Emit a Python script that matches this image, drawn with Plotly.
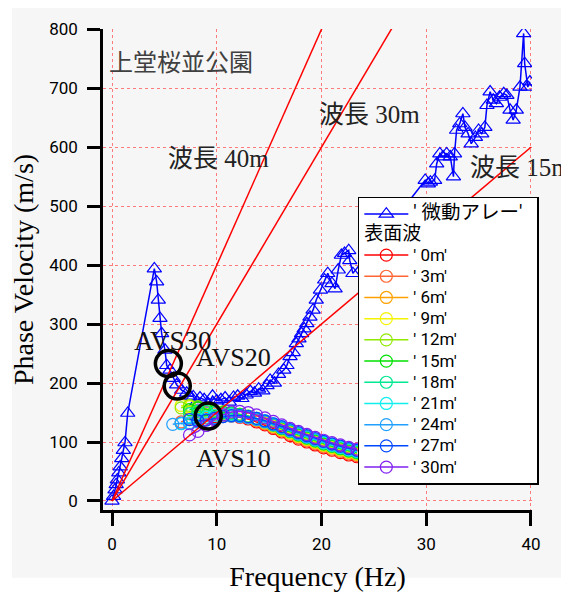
import plotly.graph_objects as go

# ---------------- data ----------------
# microtremor array ('微動アレー')
MT_F = [0.0, 0.15, 0.29, 0.40, 0.51, 0.65, 0.78, 0.93, 1.08, 1.24, 1.50, 4.04, 4.26, 4.42,
        4.58, 4.74, 5.06, 5.22, 5.54, 5.85, 6.17, 6.65, 7.13, 7.45, 7.76, 8.10, 8.40, 8.80,
        9.20, 9.60, 10.0, 10.4, 10.8, 11.2, 11.6, 12.0, 12.4, 12.8, 13.2, 13.6, 14.0, 14.4,
        14.8, 15.1, 15.5, 15.9, 16.4, 16.7, 17.0, 17.3, 17.6, 17.85, 18.1, 18.35, 18.6, 18.9,
        19.2, 19.5, 19.9, 20.3, 20.6, 21.0, 21.3, 21.6, 21.9, 22.2, 22.6, 22.7, 23.0,
        29.9, 30.2, 30.4, 30.8, 31.0, 31.3, 31.6, 31.95, 32.3, 32.6, 32.7, 32.9, 33.2, 33.5,
        33.7, 34.0, 34.3, 34.7, 35.0, 35.3, 35.6, 35.8, 36.1, 36.4, 36.7, 37.0, 37.4, 37.7,
        38.0, 38.3, 38.6, 38.95, 39.3, 39.4, 39.7, 39.9]
MT_V = [0, 8, 19, 28, 36, 48, 58, 72, 86, 99, 149, 394, 372, 341,
        310, 284, 256, 230, 222, 208, 197, 188, 183, 178, 177, 168, 175, 172,
        165, 178, 170, 172, 175, 168, 176, 178, 174, 180, 186, 183, 190, 187,
        196, 205, 200, 215, 222, 230, 245, 252, 267, 275, 284, 292, 301, 312,
        324, 341, 358, 375, 386, 369, 360, 392, 417, 420, 425, 408, 386,
        544, 538, 541, 544, 572, 589, 584, 589, 584, 550, 589, 629, 640, 657,
        634, 623, 606, 617, 629, 623, 634, 671, 694, 680, 674, 685, 691, 688,
        663, 646, 663, 702, 793, 742, 702, 711]

# surface waves ('表面波')
SW_F = [5.8, 6.6, 7.4, 8.2, 9.0, 9.8, 10.6, 11.4, 12.2, 13.0, 13.8, 14.6, 15.4, 16.2,
        17.0, 17.8, 18.6, 19.4, 20.2, 21.0, 21.8, 22.6, 23.4]
SW_NAMES = ["' 0m'", "' 3m'", "' 6m'", "' 9m'", "' 12m'", "' 15m'", "' 18m'",
            "' 21m'", "' 24m'", "' 27m'", "' 30m'"]
SW_COLORS = ["#ff0000", "#ff6633", "#ffa200", "#f4f400", "#90ea00", "#00e000",
             "#00e890", "#10eeee", "#20a0ff", "#0048ff", "#8020f0"]
N = None
SW_0 = [N, N, N, 138, 141, 143, 144, 144, 142, 139, 134, 129, 123, 117, 111, 105, 100, 95, 90, 86, 82, 78, 75]
SW_3 = [N, 134, 140, 143, 145, 146, 147, 147, 145, 141, 136, 131, 125, 119, 113, 107, 102, 97, 92, 88, 84, 80, 77]
SW_6 = [N, N, 150, 152, 151, 150, 149, 148, 146, 142, 137, 132, 126, 120, 115, 109, 104, 99, 94, 90, 86, 82, 79]
SW_9 = [N, 162, 160, 158, 155, 152, 150, 148, 146, 142, 138, 133, 127, 121, 116, 110, 105, 100, 95, 91, 87, 83, 80]
SW_12 = [N, 158, 162, 160, 156, 153, 151, 149, 147, 143, 139, 134, 128, 122, 117, 111, 106, 101, 96, 92, 88, 84, 81]
SW_15 = [N, N, 155, 158, 155, 152, 150, 149, 147, 144, 140, 135, 129, 123, 118, 112, 107, 102, 97, 93, 89, 85, 82]
SW_18 = [N, N, 148, 152, 152, 150, 149, 148, 146, 143, 139, 135, 130, 124, 119, 113, 108, 103, 98, 94, 90, 86, 83]
SW_21 = [N, 131, 133, 138, 142, 145, 146, 146, 145, 143, 140, 136, 131, 125, 120, 114, 109, 104, 99, 95, 91, 87, 84]
SW_24 = [130, 132, 131, 134, 138, 141, 143, 144, 143, 141, 138, 134, 129, 124, 119, 114, 109, 104, 100, 96, 92, 88, 85]
SW_27 = [N, N, 138, 136, 137, 140, 143, 145, 145, 143, 140, 136, 131, 126, 121, 116, 111, 106, 101, 97, 93, 89, 86]
SW_30 = [N, N, 112, 118, 128, 138, 146, 151, 152, 150, 146, 141, 135, 129, 123, 118, 113, 108, 103, 99, 95, 91, 88]
SW_V = [SW_0, SW_3, SW_6, SW_9, SW_12, SW_15, SW_18, SW_21, SW_24, SW_27, SW_30]

# wavelength reference lines (v = wavelength * f)
WAVELENGTHS = [40, 30, 15]
LINE_F = [0, 40]

# AVS picks
AVS_F = [5.38, 6.23, 9.19]
AVS_V = [233, 195, 144]

X_TICKS = [0, 10, 20, 30, 40]
Y_TICKS = [0, 100, 200, 300, 400, 500, 600, 700, 800]

# ---------------- figure ----------------
SERIF = "Liberation Serif, Noto Sans CJK JP, serif"
SANS = "Roboto, Noto Sans CJK JP, sans-serif"
BG = "#f6f6f6"


def lbl(txt, size=17):
    return f"<span style='font-size:{size}px'>{txt}</span>"


fig = go.Figure()

fig.add_trace(go.Scatter(
    x=MT_F, y=MT_V, mode="lines+markers", name=lbl("' 微動アレー'&nbsp;&nbsp;", 19.5),
    line=dict(color="#0000ff", width=1.5),
    marker=dict(symbol="triangle-up-open", size=12.5, color="#0000ff", line=dict(width=1.2)),
    legendgroup="mt",
))

for i, (nm, col, vals) in enumerate(zip(SW_NAMES, SW_COLORS, SW_V)):
    fig.add_trace(go.Scatter(
        x=SW_F, y=vals, mode="lines+markers", name=lbl(nm, 17),
        line=dict(color=col, width=1.5),
        marker=dict(symbol="circle-open", size=12, color=col, line=dict(width=1.2)),
        legendgroup="sw",
        legendgrouptitle=dict(text=lbl("表面波", 19), font=dict(family=SANS, size=13, color="black")) if i == 0 else None,
        connectgaps=False,
    ))

for wl in WAVELENGTHS:
    fig.add_trace(go.Scatter(
        x=LINE_F, y=[wl * f for f in LINE_F], mode="lines",
        line=dict(color="#ff0000", width=1.5), showlegend=False, hoverinfo="skip",
    ))

fig.add_trace(go.Scatter(
    x=AVS_F, y=AVS_V, mode="markers", showlegend=False,
    marker=dict(symbol="circle-open", size=26, color="black", line=dict(width=3.5)),
))

# text annotations
ann = [
    dict(x=-0.45, y=742, text="上堂桜並公園", xanchor="left", size=24, color="#404040"),
    dict(x=10.2, y=581, text="波長 40m", xanchor="center", size=25, color="#222222"),
    dict(x=24.6, y=656, text="波長 30m", xanchor="center", size=25, color="#222222"),
    dict(x=34.0, y=566, text="波長 15m", xanchor="left", size=25, color="#222222"),
    dict(x=5.8, y=271, text="AVS30", xanchor="center", size=27, color="#111111"),
    dict(x=11.6, y=244, text="AVS20", xanchor="center", size=26, color="#111111"),
    dict(x=11.6, y=72, text="AVS10", xanchor="center", size=26, color="#111111"),
]
for a in ann:
    fig.add_annotation(x=a["x"], y=a["y"], text=a["text"], showarrow=False,
                       xanchor=a["xanchor"], yanchor="middle",
                       font=dict(family=SERIF, size=a["size"], color=a["color"]))

# grey panel background
fig.add_shape(type="rect", xref="paper", yref="paper", x0=-0.212, x1=1.077, y0=-0.141, y1=1.044,
              fillcolor=BG, line=dict(width=0), layer="below")

axis_common = dict(
    showline=True, linecolor="black", linewidth=2.5, mirror=False,
    ticks="outside", ticklen=13, tickwidth=2.5, tickcolor="black",
    showgrid=True, gridcolor="#ff7a7a", griddash="dot", gridwidth=1,
    zeroline=False, tickfont=dict(family=SANS, size=17, color="black"),
    automargin=False,
)

fig.update_layout(
    width=561, height=584,
    margin=dict(l=95, r=37, t=21, b=82),
    paper_bgcolor="white", plot_bgcolor=BG,
    xaxis=dict(range=[-0.86, 40.1], tickvals=X_TICKS, ticklabelstandoff=4,
               title=dict(text="Frequency (Hz)", font=dict(family=SERIF, size=28, color="black"), standoff=14),
               **axis_common),
    yaxis=dict(range=[-15.3, 800.5], tickvals=Y_TICKS, ticklabelstandoff=6,
               title=dict(text="Phase Velocity (m/s)", font=dict(family=SERIF, size=28, color="black"), standoff=15),
               **axis_common),
    legend=dict(x=0.594, y=0.651, xanchor="left", yanchor="top",
                bgcolor="white", bordercolor="black", borderwidth=1.5,
                font=dict(family=SANS, size=14, color="black"), itemwidth=44,
                tracegroupgap=0, traceorder="grouped"),
    showlegend=True,
)

fig.write_html("out.html")
